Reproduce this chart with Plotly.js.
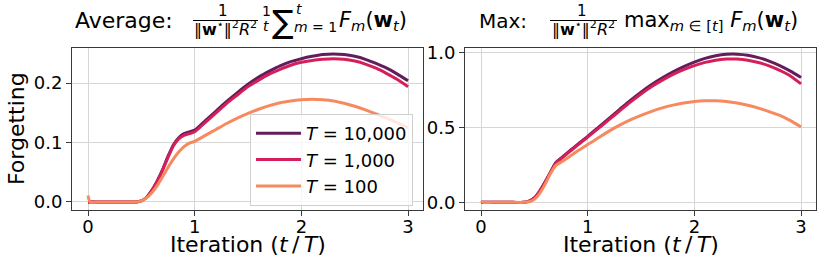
<!DOCTYPE html>
<html>
<head>
<meta charset="utf-8">
<script src="https://cdn.plot.ly/plotly-3.0.1.min.js"></script>
<style>html,body{margin:0;padding:0;background:#fff;}#chart{width:822px;height:266px;}</style>
</head>
<body>
<div id="chart"></div>
<script>
// ---- data ----
const iterations = [0, 0.02, 0.1, 0.2, 0.3, 0.4, 0.45, 0.5, 0.55, 0.6, 0.65, 0.7, 0.75, 0.8, 0.85, 0.9, 0.95, 1.0,
  1.1, 1.2, 1.3, 1.4, 1.5, 1.6, 1.7, 1.8, 1.9, 2.0, 2.1, 2.2, 2.3, 2.4, 2.5, 2.6, 2.7, 2.8, 2.9, 3.0];

const seriesNames = ["<i>T</i> = 10,000", "<i>T</i> = 1,000", "<i>T</i> = 100"];
const seriesColors = ["#641d5c", "#d41f59", "#f7895e"];

// Average forgetting
const avgT10000 = [0, 0, 0, 0, 0, 0, 0, 0.002, 0.008, 0.02, 0.036, 0.055, 0.077, 0.096, 0.108, 0.115, 0.118, 0.121,
  0.137, 0.153, 0.169, 0.184, 0.198, 0.210, 0.220, 0.229, 0.236, 0.241, 0.245, 0.248, 0.249, 0.248, 0.245, 0.240, 0.233, 0.225, 0.215, 0.204];
const avgT1000 = [0, 0, 0, 0, 0, 0, 0, 0.002, 0.008, 0.02, 0.035, 0.054, 0.075, 0.094, 0.106, 0.112, 0.115, 0.118,
  0.134, 0.150, 0.166, 0.180, 0.194, 0.205, 0.215, 0.223, 0.230, 0.235, 0.238, 0.240, 0.241, 0.240, 0.237, 0.232, 0.225, 0.216, 0.206, 0.194];
const avgT100 = [0.011, 0, 0, 0, 0, 0, 0, 0.002, 0.007, 0.016, 0.028, 0.043, 0.058, 0.072, 0.084, 0.093, 0.099, 0.102,
  0.112, 0.122, 0.132, 0.141, 0.149, 0.156, 0.162, 0.167, 0.170, 0.172, 0.173, 0.172, 0.170, 0.166, 0.161, 0.155, 0.148, 0.141, 0.133, 0.125];

// Max forgetting
const maxT10000 = [0, 0, 0, 0, 0, 0, 0.008, 0.03, 0.075, 0.135, 0.2, 0.265, 0.295, 0.325, 0.354, 0.383, 0.412, 0.44,
  0.50, 0.56, 0.62, 0.68, 0.735, 0.785, 0.83, 0.87, 0.905, 0.935, 0.96, 0.977, 0.987, 0.988, 0.981, 0.965, 0.942, 0.912, 0.875, 0.832];
const maxT1000 = [0, 0, 0, 0, 0, 0, 0.008, 0.03, 0.074, 0.133, 0.197, 0.26, 0.29, 0.32, 0.349, 0.378, 0.407, 0.435,
  0.493, 0.551, 0.61, 0.668, 0.722, 0.772, 0.815, 0.853, 0.885, 0.912, 0.933, 0.948, 0.955, 0.955, 0.948, 0.932, 0.91, 0.88, 0.843, 0.79];
const maxT100 = [0.01, 0, 0, 0, 0, 0, 0.004, 0.02, 0.06, 0.12, 0.19, 0.245, 0.268, 0.29, 0.315, 0.34, 0.362, 0.385,
  0.43, 0.475, 0.515, 0.55, 0.58, 0.607, 0.63, 0.648, 0.662, 0.672, 0.677, 0.677, 0.672, 0.662, 0.647, 0.628, 0.605, 0.58, 0.545, 0.502];

const xTickVals = [0, 1, 2, 3];
const xTickText = ["0", "1", "2", "3"];
const yLeftTickVals = [0, 0.1, 0.2];
const yLeftTickText = ["0.0", "0.1", "0.2"];
const yRightTickVals = [0, 0.5, 1.0];
const yRightTickText = ["0.0", "0.5", "1.0"];
const xTitle = "Iteration (<i>t</i>\u2009/\u2009<i>T</i>)";
const yTitle = "Forgetting";

// ---- figure ----
const W = 822, H = 266;
const M = {l: 72, r: 6, t: 48, b: 56};
const IW = W - M.l - M.r, IH = H - M.t - M.b;
const px = x => (x - M.l) / IW;      // pixel -> paper x
const py = y => (H - M.b - y) / IH;  // pixel -> paper y
const FONT = "DejaVu Sans";

const avgSeries = [avgT10000, avgT1000, avgT100];
const maxSeries = [maxT10000, maxT1000, maxT100];
const traces = [];
avgSeries.forEach((ys, i) => traces.push({
  x: iterations, y: ys, type: "scatter", mode: "lines", name: seriesNames[i],
  line: {color: seriesColors[i], width: 3, shape: "spline", smoothing: 0.6},
  xaxis: "x", yaxis: "y", legendgroup: "g" + i
}));
maxSeries.forEach((ys, i) => traces.push({
  x: iterations, y: ys, type: "scatter", mode: "lines", name: seriesNames[i],
  line: {color: seriesColors[i], width: 3, shape: "spline", smoothing: 0.6},
  xaxis: "x2", yaxis: "y2", legendgroup: "g" + i, showlegend: false
}));

const axisCommon = {
  showline: true, mirror: true, linecolor: "#3a3a3a", linewidth: 1,
  ticks: "outside", ticklen: 5, tickcolor: "#3a3a3a", tickwidth: 1,
  showgrid: true, gridcolor: "#d6d6d6", gridwidth: 1, zeroline: false,
  tickfont: {family: FONT, size: 18, color: "#000"}, fixedrange: true
};

const layout = {
  width: W, height: H, margin: M, paper_bgcolor: "#fff", plot_bgcolor: "#fff",
  font: {family: FONT, color: "#000"},
  showlegend: true,
  legend: {
    x: px(250), y: py(114), xanchor: "left", yanchor: "top", xref: "paper", yref: "paper",
    bgcolor: "rgba(255,255,255,0.8)", bordercolor: "#d0d0d0", borderwidth: 1,
    font: {family: FONT, size: 18, color: "#000"}, tracegroupgap: 0, itemwidth: 45
  },
  xaxis: Object.assign({}, axisCommon, {domain: [0, 351 / IW], range: [-0.15, 3.14],
    tickvals: xTickVals, ticktext: xTickText, anchor: "y", ticklabelstandoff: -5}),
  yaxis: Object.assign({}, axisCommon, {domain: [0, 1], range: [-0.0135, 0.259],
    tickvals: yLeftTickVals, ticktext: yLeftTickText, anchor: "x"}),
  xaxis2: Object.assign({}, axisCommon, {domain: [393 / IW, 1], range: [-0.15, 3.14],
    tickvals: xTickVals, ticktext: xTickText, anchor: "y2", ticklabelstandoff: -5}),
  yaxis2: Object.assign({}, axisCommon, {domain: [0, 1], range: [-0.051, 1.029],
    tickvals: yRightTickVals, ticktext: yRightTickText, anchor: "x2"}),
  shapes: [
    {type: "line", xref: "paper", yref: "paper", x0: px(193), x1: px(258), y0: py(20.5), y1: py(20.5), line: {color: "#000", width: 1}},
    {type: "line", xref: "paper", yref: "paper", x0: px(550), x1: px(617), y0: py(20.5), y1: py(20.5), line: {color: "#000", width: 1}}
  ],
  annotations: []
};

function ann(text, x, y, size, xanchor, extra) {
  layout.annotations.push(Object.assign({
    text: text, x: px(x), y: py(y), xref: "paper", yref: "paper", showarrow: false,
    xanchor: xanchor || "left", yanchor: "middle", font: {family: FONT, size: size, color: "#000"}
  }, extra || {}));
}
// axis titles
ann(xTitle, 247.5, 244, 22, "center");
ann(xTitle, 640.5, 244, 22, "center");
ann(yTitle, 16, 129, 22, "center", {textangle: -90});

const denom = "\u2016<b>w</b><sup>\u22c6</sup>\u2016<sup>2</sup><i>R</i><sup>2</sup>";
// left title
ann("Average:", 73, 21, 22);
ann("1", 223, 11, 15, "center");
ann(denom, 225, 29, 16, "center");
ann("1", 266, 11, 14, "center");
ann("<i>t</i>", 266, 26, 14, "center");
ann("\u2211", 270, 22, 32);
ann("<i>t</i>", 294, 9, 14);
ann("<i>m</i> = 1", 292, 27, 14);
ann("<i>F</i><sub><i>m</i></sub>(<b>w</b><sub><i>t</i></sub>)", 337, 21, 21);
// right title
ann("Max:", 477, 21, 20);
ann("1", 582, 11, 15, "center");
ann(denom, 583, 29, 16, "center");
ann("max<sub><i>m</i> \u2208 [<i>t</i>]</sub> <i>F</i><sub><i>m</i></sub>(<b>w</b><sub><i>t</i></sub>)", 622, 21, 21);

Plotly.newPlot("chart", traces, layout, {displayModeBar: false, staticPlot: true});
</script>
</body>
</html>
